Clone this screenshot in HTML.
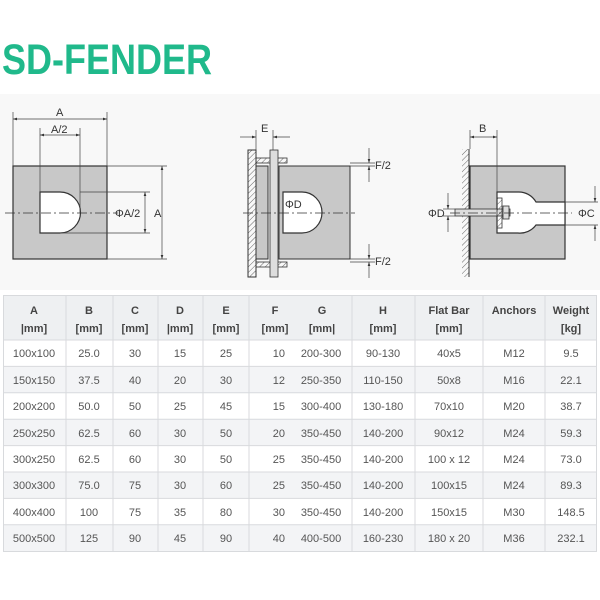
<!DOCTYPE html>
<html><head><meta charset="utf-8"><style>
html,body{margin:0;padding:0;background:#fff;}
svg{display:block;}
.t{font-family:"Liberation Sans",sans-serif;font-size:11px;fill:#555;text-anchor:middle;}
.h{font-family:"Liberation Sans",sans-serif;font-size:11px;fill:#444;font-weight:bold;text-anchor:middle;}
.d{font-family:"Liberation Sans",sans-serif;font-size:11px;fill:#333;}
</style></head><body>
<svg width="600" height="600" viewBox="0 0 600 600" xmlns="http://www.w3.org/2000/svg">
<defs>
<pattern id="hat" width="4" height="4" patternUnits="userSpaceOnUse" patternTransform="rotate(45)"><line x1="0" y1="0" x2="0" y2="4" stroke="#666" stroke-width="1"/></pattern>
<marker id="ar" markerWidth="6" markerHeight="6" refX="6" refY="3" orient="auto-start-reverse"><path d="M0,1 L6,3 L0,5 z" fill="#333"/></marker>
</defs>
<text x="2" y="74" font-family="Liberation Sans, sans-serif" font-weight="bold" font-size="43" fill="#20b98b" textLength="210" lengthAdjust="spacingAndGlyphs">SD-FENDER</text>
<rect x="0" y="94" width="600" height="196" fill="#f8f8f8"/>

<!-- left drawing -->
<rect x="13" y="166" width="94" height="93" fill="#c8c8c8" stroke="#333" stroke-width="1.2"/>
<path d="M40,192 L60,192 A20.5,20.5 0 0 1 60,233 L40,233 Z" fill="#fff" stroke="#333" stroke-width="1.2"/>
<line x1="5" y1="213" x2="118" y2="213" stroke="#333" stroke-width="0.8" stroke-dasharray="10,3,2,3"/>
<g stroke="#444" stroke-width="0.7" fill="none">
<line x1="13" y1="112" x2="13" y2="166"/><line x1="107" y1="112" x2="107" y2="166"/>
<line x1="13" y1="119" x2="107" y2="119" marker-start="url(#ar)" marker-end="url(#ar)"/>
<line x1="40" y1="128" x2="40" y2="192"/><line x1="80" y1="128" x2="80" y2="213"/>
<line x1="40" y1="135" x2="80" y2="135" marker-start="url(#ar)" marker-end="url(#ar)"/>
<line x1="107" y1="166" x2="167" y2="166"/><line x1="107" y1="259" x2="167" y2="259"/>
<line x1="162" y1="166" x2="162" y2="259" marker-start="url(#ar)" marker-end="url(#ar)"/>
<line x1="80" y1="192" x2="150" y2="192"/><line x1="60" y1="233" x2="150" y2="233"/>
<line x1="145" y1="192" x2="145" y2="233" marker-start="url(#ar)" marker-end="url(#ar)"/>
</g>
<text class="d" x="56" y="116">A</text><text class="d" x="51" y="133">A/2</text>
<text class="d" x="154" y="217">A</text><text class="d" x="115" y="217">ΦA/2</text>

<!-- middle drawing -->
<rect x="248" y="150" width="8" height="127" fill="url(#hat)" stroke="#333" stroke-width="1"/>
<rect x="256" y="166" width="12" height="93" fill="#c8c8c8" stroke="#333"/>
<rect x="279" y="166" width="71" height="93" fill="#c8c8c8" stroke="#333"/>
<rect x="256" y="158" width="31" height="5" fill="url(#hat)" stroke="#333" stroke-width="0.8"/>
<rect x="256" y="262" width="31" height="5" fill="url(#hat)" stroke="#333" stroke-width="0.8"/>
<rect x="270" y="150" width="8" height="127" fill="#ddd" stroke="#333" stroke-width="0.8"/>
<path d="M283,192 L302,192 A20,20.5 0 0 1 302,233 L283,233 Z" fill="#fff" stroke="#333" stroke-width="1.2"/>
<line x1="243" y1="213" x2="355" y2="213" stroke="#333" stroke-width="0.8" stroke-dasharray="10,3,2,3"/>
<g stroke="#444" stroke-width="0.7" fill="none">
<line x1="256" y1="130" x2="256" y2="150"/><line x1="273" y1="130" x2="273" y2="150"/>
<line x1="240" y1="137" x2="256" y2="137" marker-end="url(#ar)"/><line x1="290" y1="137" x2="273" y2="137" marker-end="url(#ar)"/>
<line x1="350" y1="163" x2="375" y2="163"/><line x1="350" y1="166" x2="375" y2="166"/>
<line x1="369" y1="148" x2="369" y2="163" marker-end="url(#ar)"/><line x1="369" y1="182" x2="369" y2="166" marker-end="url(#ar)"/>
<line x1="350" y1="259" x2="375" y2="259"/><line x1="350" y1="262" x2="375" y2="262"/>
<line x1="369" y1="244" x2="369" y2="259" marker-end="url(#ar)"/><line x1="369" y1="278" x2="369" y2="262" marker-end="url(#ar)"/>
</g>
<text class="d" x="261" y="132">E</text><text class="d" x="285" y="208">ΦD</text>
<text class="d" x="375" y="169">F/2</text><text class="d" x="375" y="265">F/2</text>

<!-- right drawing -->
<rect x="462" y="149" width="7" height="128" fill="url(#hat)"/>
<line x1="469" y1="149" x2="469" y2="277" stroke="#333"/>
<rect x="470" y="166" width="95" height="93" fill="#c8c8c8" stroke="#333" stroke-width="1.2"/>
<path d="M497,192 L518,192 A20,20.5 0 0 1 536,202 L565,202 L565,225 L536,225 A20,20.5 0 0 1 518,233 L497,233 Z" fill="#fff" stroke="#333" stroke-width="1.2"/>
<rect x="455" y="209" width="55" height="7" fill="#ddd" stroke="#333" stroke-width="0.8"/>
<rect x="497" y="198" width="5" height="30" fill="url(#hat)" stroke="#333" stroke-width="0.8"/>
<rect x="503" y="206" width="6" height="13" fill="#ddd" stroke="#333" stroke-width="0.8"/>
<line x1="450" y1="213" x2="572" y2="213" stroke="#333" stroke-width="0.8" stroke-dasharray="10,3,2,3"/>
<g stroke="#444" stroke-width="0.7" fill="none">
<line x1="470" y1="130" x2="470" y2="149"/><line x1="497" y1="130" x2="497" y2="192"/>
<line x1="470" y1="137" x2="497" y2="137" marker-start="url(#ar)" marker-end="url(#ar)"/>
<line x1="443" y1="209" x2="455" y2="209"/><line x1="443" y1="216" x2="455" y2="216"/>
<line x1="448" y1="193" x2="448" y2="209" marker-end="url(#ar)"/><line x1="448" y1="232" x2="448" y2="216" marker-end="url(#ar)"/>
<line x1="565" y1="202" x2="598" y2="202"/><line x1="565" y1="225" x2="598" y2="225"/>
<line x1="595" y1="186" x2="595" y2="202" marker-end="url(#ar)"/><line x1="595" y1="241" x2="595" y2="225" marker-end="url(#ar)"/>
</g>
<text class="d" x="479" y="132">B</text><text class="d" x="428" y="217">ΦD</text><text class="d" x="578" y="217">ΦC</text>

<!-- table -->
<rect x="3" y="295" width="594" height="45" fill="#eef0f2"/>
<rect x="3" y="340" width="594" height="211" fill="#fff"/>
<g fill="#f3f4f6">
<rect x="3" y="366.4" width="594" height="26.4"/><rect x="3" y="419.2" width="594" height="26.4"/>
<rect x="3" y="472" width="594" height="26.4"/><rect x="3" y="524.8" width="594" height="26.4"/>
</g>
<g stroke="#d8dadd" stroke-width="1">
<rect x="3.5" y="295.5" width="593" height="256" fill="none"/>
<line x1="3" y1="340" x2="597" y2="340"/><line x1="3" y1="366.4" x2="597" y2="366.4"/>
<line x1="3" y1="392.8" x2="597" y2="392.8"/><line x1="3" y1="419.2" x2="597" y2="419.2"/>
<line x1="3" y1="445.6" x2="597" y2="445.6"/><line x1="3" y1="472" x2="597" y2="472"/>
<line x1="3" y1="498.4" x2="597" y2="498.4"/><line x1="3" y1="524.8" x2="597" y2="524.8"/>
<line x1="66" y1="295" x2="66" y2="551"/><line x1="113" y1="295" x2="113" y2="551"/>
<line x1="158" y1="295" x2="158" y2="551"/><line x1="203" y1="295" x2="203" y2="551"/>
<line x1="249" y1="295" x2="249" y2="551"/><line x1="352" y1="295" x2="352" y2="551"/>
<line x1="415" y1="295" x2="415" y2="551"/><line x1="483" y1="295" x2="483" y2="551"/>
<line x1="545" y1="295" x2="545" y2="551"/>
</g>
<g class="h">
<text class="h" x="34" y="314">A</text><text class="h" x="34" y="332">|mm]</text>
<text class="h" x="89" y="314">B</text><text class="h" x="89" y="332">[mm]</text>
<text class="h" x="135" y="314">C</text><text class="h" x="135" y="332">[mm]</text>
<text class="h" x="180" y="314">D</text><text class="h" x="180" y="332">|mm]</text>
<text class="h" x="226" y="314">E</text><text class="h" x="226" y="332">[mm]</text>
<text class="h" x="275" y="314">F</text><text class="h" x="275" y="332">[mm]</text>
<text class="h" x="322" y="314">G</text><text class="h" x="322" y="332">[mm|</text>
<text class="h" x="383" y="314">H</text><text class="h" x="383" y="332">[mm]</text>
<text class="h" x="449" y="314">Flat Bar</text><text class="h" x="449" y="332">[mm]</text>
<text class="h" x="514" y="314">Anchors</text>
<text class="h" x="571" y="314">Weight</text><text class="h" x="571" y="332">[kg]</text>
</g>
<g>
<text class="t" x="34" y="357">100x100</text><text class="t" x="89" y="357">25.0</text><text class="t" x="135" y="357">30</text><text class="t" x="180" y="357">15</text><text class="t" x="226" y="357">25</text><text class="t" x="285" y="357" text-anchor="end" style="text-anchor:end">10</text><text class="t" x="321" y="357">200-300</text><text class="t" x="383" y="357">90-130</text><text class="t" x="449" y="357">40x5</text><text class="t" x="514" y="357">M12</text><text class="t" x="571" y="357">9.5</text>
<text class="t" x="34" y="384">150x150</text><text class="t" x="89" y="384">37.5</text><text class="t" x="135" y="384">40</text><text class="t" x="180" y="384">20</text><text class="t" x="226" y="384">30</text><text class="t" x="285" y="384" style="text-anchor:end">12</text><text class="t" x="321" y="384">250-350</text><text class="t" x="383" y="384">110-150</text><text class="t" x="449" y="384">50x8</text><text class="t" x="514" y="384">M16</text><text class="t" x="571" y="384">22.1</text>
<text class="t" x="34" y="410">200x200</text><text class="t" x="89" y="410">50.0</text><text class="t" x="135" y="410">50</text><text class="t" x="180" y="410">25</text><text class="t" x="226" y="410">45</text><text class="t" x="285" y="410" style="text-anchor:end">15</text><text class="t" x="321" y="410">300-400</text><text class="t" x="383" y="410">130-180</text><text class="t" x="449" y="410">70x10</text><text class="t" x="514" y="410">M20</text><text class="t" x="571" y="410">38.7</text>
<text class="t" x="34" y="437">250x250</text><text class="t" x="89" y="437">62.5</text><text class="t" x="135" y="437">60</text><text class="t" x="180" y="437">30</text><text class="t" x="226" y="437">50</text><text class="t" x="285" y="437" style="text-anchor:end">20</text><text class="t" x="321" y="437">350-450</text><text class="t" x="383" y="437">140-200</text><text class="t" x="449" y="437">90x12</text><text class="t" x="514" y="437">M24</text><text class="t" x="571" y="437">59.3</text>
<text class="t" x="34" y="463">300x250</text><text class="t" x="89" y="463">62.5</text><text class="t" x="135" y="463">60</text><text class="t" x="180" y="463">30</text><text class="t" x="226" y="463">50</text><text class="t" x="285" y="463" style="text-anchor:end">25</text><text class="t" x="321" y="463">350-450</text><text class="t" x="383" y="463">140-200</text><text class="t" x="449" y="463">100 x 12</text><text class="t" x="514" y="463">M24</text><text class="t" x="571" y="463">73.0</text>
<text class="t" x="34" y="489">300x300</text><text class="t" x="89" y="489">75.0</text><text class="t" x="135" y="489">75</text><text class="t" x="180" y="489">30</text><text class="t" x="226" y="489">60</text><text class="t" x="285" y="489" style="text-anchor:end">25</text><text class="t" x="321" y="489">350-450</text><text class="t" x="383" y="489">140-200</text><text class="t" x="449" y="489">100x15</text><text class="t" x="514" y="489">M24</text><text class="t" x="571" y="489">89.3</text>
<text class="t" x="34" y="516">400x400</text><text class="t" x="89" y="516">100</text><text class="t" x="135" y="516">75</text><text class="t" x="180" y="516">35</text><text class="t" x="226" y="516">80</text><text class="t" x="285" y="516" style="text-anchor:end">30</text><text class="t" x="321" y="516">350-450</text><text class="t" x="383" y="516">140-200</text><text class="t" x="449" y="516">150x15</text><text class="t" x="514" y="516">M30</text><text class="t" x="571" y="516">148.5</text>
<text class="t" x="34" y="542">500x500</text><text class="t" x="89" y="542">125</text><text class="t" x="135" y="542">90</text><text class="t" x="180" y="542">45</text><text class="t" x="226" y="542">90</text><text class="t" x="285" y="542" style="text-anchor:end">40</text><text class="t" x="321" y="542">400-500</text><text class="t" x="383" y="542">160-230</text><text class="t" x="449" y="542">180 x 20</text><text class="t" x="514" y="542">M36</text><text class="t" x="571" y="542">232.1</text>
</g>
</svg>
</body></html>
